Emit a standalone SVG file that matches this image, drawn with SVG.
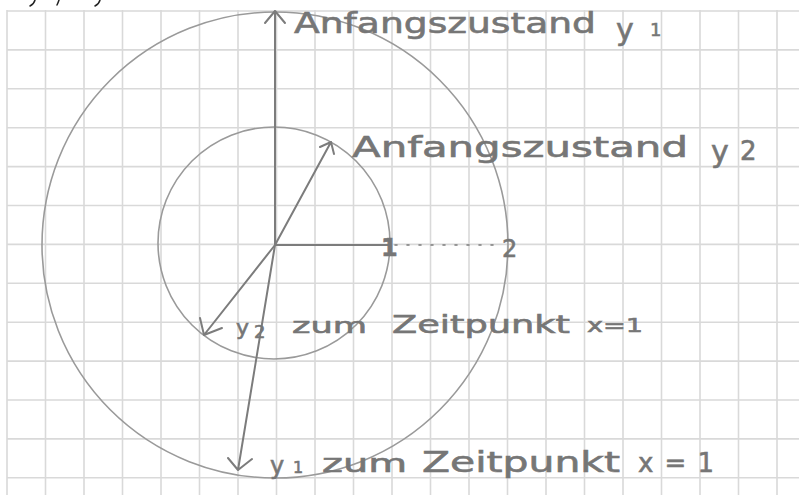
<svg xmlns="http://www.w3.org/2000/svg" width="799" height="495" viewBox="0 0 799 495">
<style>
.grid{stroke:#d9d9d9;stroke-width:1.6;fill:none}
.circ{stroke:#9a9a9a;stroke-width:1.6;fill:none}
.vec{stroke:#7c7c7c;stroke-width:2;fill:none;stroke-linecap:round;stroke-linejoin:round}
.lbl{font-family:"DejaVu Sans","Liberation Sans",sans-serif;fill:#767676;stroke:#767676;stroke-width:0.6}
.frag{stroke:#222;stroke-width:1.5;fill:none;stroke-linecap:round}
</style>
<rect width="799" height="495" fill="#ffffff"/>
<g id="grid" class="grid">
<path d="M7 10V495M45.5 10V495M84 10V495M122.5 10V495M161 10V495M199.5 10V495M238 10V495M276.5 10V495M315 10V495M353.5 10V495M392 10V495M430.5 10V495M469 10V495M507.5 10V495M546 10V495M584.5 10V495M623 10V495M661.5 10V495M700 10V495M738.5 10V495M777 10V495"/>
<path d="M7 11H799M7 49.9H799M7 88.8H799M7 127.7H799M7 166.6H799M7 205.5H799M7 244.4H799M7 283.3H799M7 322.2H799M7 361.1H799M7 400H799M7 438.9H799M7 477.8H799"/>
</g>
<g id="fragments" class="frag">
<path d="M35 0Q34 4 30 6"/>
<path d="M59 0Q58 3 57 5"/>
<path d="M100 0Q99 4 95 6"/>
</g>
<g id="circles">
<circle id="circle-y1" class="circ" cx="275" cy="245" r="233" stroke="#a4a4a4"/>
<ellipse id="circle-y2" class="circ" cx="274" cy="243" rx="116" ry="116"/>
</g>
<g id="connectors" class="vec">
<path d="M275 245V11M265 23L275 11L285 23"/>
<path d="M275 245L331 142M320 147L331 142L334 154"/>
<path d="M275 245H388"/>
<path d="M395 245H495" stroke-dasharray="2 10" stroke-width="1.6"/>
<path d="M275 245L204 335M200 318L204 335L222 328"/>
<path d="M275 245L238 470M228 458L238 470L252 459"/>
</g>
<g id="label-1"><text class="lbl" x="381" y="256" font-size="24" font-weight="bold">1</text></g>
<g id="label-2"><text class="lbl" x="502" y="257" font-size="24">2</text></g>
<g id="label-anfang-y1"><text class="lbl" x="294" y="33" font-size="29" textLength="302" lengthAdjust="spacingAndGlyphs">Anfangszustand</text><text class="lbl" x="616" y="40" font-size="30">y</text><text class="lbl" x="650" y="36" font-size="18">1</text></g>
<g id="label-anfang-y2"><text class="lbl" x="352" y="157" font-size="29" textLength="336" lengthAdjust="spacingAndGlyphs">Anfangszustand</text><text class="lbl" x="711" y="162" font-size="30">y</text><text class="lbl" x="740" y="160" font-size="26">2</text></g>
<g id="label-y2-x1"><text class="lbl" x="236" y="335" font-size="22">y</text><text class="lbl" x="254" y="338" font-size="18">2</text><text class="lbl" x="292" y="333" font-size="22" textLength="75" lengthAdjust="spacingAndGlyphs">zum</text><text class="lbl" x="392" y="333" font-size="24" textLength="178" lengthAdjust="spacingAndGlyphs">Zeitpunkt</text><text class="lbl" x="587" y="332" font-size="20" textLength="56" lengthAdjust="spacingAndGlyphs">x=1</text></g>
<g id="label-y1-x1"><text class="lbl" x="270" y="474" font-size="24">y</text><text class="lbl" x="293" y="473" font-size="16">1</text><text class="lbl" x="322" y="472" font-size="24" textLength="85" lengthAdjust="spacingAndGlyphs">zum</text><text class="lbl" x="422" y="472" font-size="28" textLength="198" lengthAdjust="spacingAndGlyphs">Zeitpunkt</text><text class="lbl" x="638" y="472" font-size="26" textLength="76" lengthAdjust="spacing">x = 1</text></g>
</svg>
